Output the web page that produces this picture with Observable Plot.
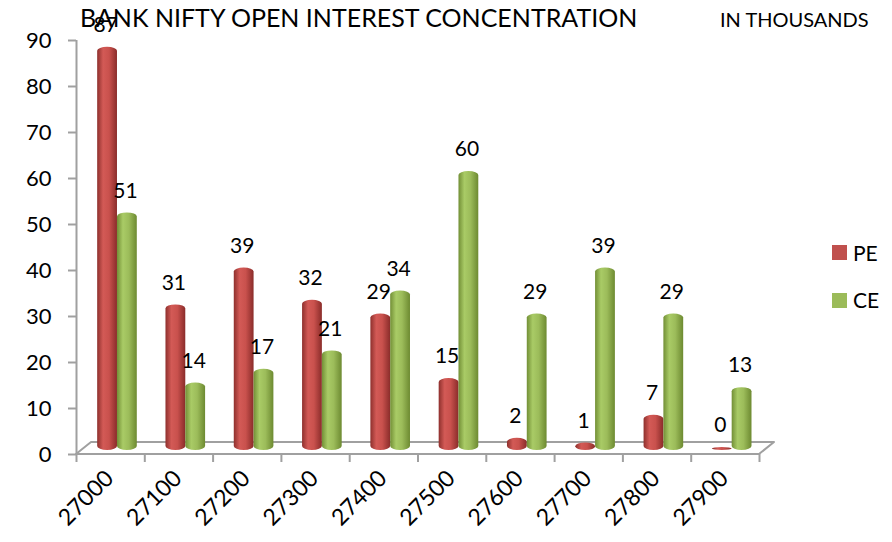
<!DOCTYPE html>
<html><head><meta charset="utf-8">
<script src="https://cdn.jsdelivr.net/npm/d3@7"></script>
<script src="https://cdn.jsdelivr.net/npm/@observablehq/plot@0.6"></script>
<style>
body{margin:0;background:#fff;font-family:Lato, "Open Sans", sans-serif;}
#wrap{position:relative;width:892px;height:542px;overflow:hidden;}
.t{position:absolute;white-space:nowrap;color:#000;line-height:1;font-family:Lato, sans-serif;}
.sw{position:absolute;width:15px;height:15px;}
</style></head><body><div id="wrap"></div>
<script>
const strikes = ["27000","27100","27200","27300","27400","27500","27600","27700","27800","27900"];
const pe = [87,31,39,32,29,15,2,1,7,0];
const ce = [51,14,17,21,34,60,29,39,29,13];
const yTicks = [0,10,20,30,40,50,60,70,80,90];
const seriesNames = ["PE","CE"];
const seriesColors = ["#C0504D","#9BBB59"];
const titleText = "BANK NIFTY OPEN INTEREST CONCENTRATION";
const unitNote = "IN THOUSANDS";

const rows = strikes.map((s,i)=>({i, strike:s, pe:pe[i], ce:ce[i]}));
const axisGray = "#a0a0a0";

const floor = (index, scales) => {
  const x = scales.x, y = scales.y;
  const x0 = x(0), x1 = x(strikes.length), y0 = y(0);
  const ddx = 15, ddy = -12;
  const p = document.createElementNS("http://www.w3.org/2000/svg","path");
  p.setAttribute("d", `M${x0},${y0}L${x0+ddx},${y0+ddy}L${x1+ddx},${y0+ddy}L${x1},${y0}Z`);
  p.setAttribute("fill","none");
  p.setAttribute("stroke",axisGray);
  p.setAttribute("stroke-width","2");
  p.setAttribute("stroke-linejoin","round");
  return p;
};

const svg = Plot.plot({
  width: 892, height: 542,
  marginLeft: 76, marginRight: 133, marginTop: 40, marginBottom: 88,
  style: {fontFamily: "Lato, sans-serif", fontSize: "21px", color: "#000", background: "#fff", overflow: "visible"},
  x: {type: "linear", domain: [0, strikes.length]},
  y: {domain: [0, 90]},
  marks: [
    floor,
    Plot.ruleX([0], {y1: 0, y2: 90, stroke: axisGray, strokeWidth: 2}),
    Plot.axisY({ticks: yTicks, tickSize: 8, tickPadding: 17, fontSize: 22, stroke: axisGray, strokeWidth: 2, label: null}),
    Plot.axisX({ticks: d3.range(strikes.length + 1), tickFormat: () => "", tickSize: 8, stroke: axisGray, strokeWidth: 2, label: null}),
    Plot.axisX({ticks: strikes.map((s,i)=>i+0.5), tickFormat: v => strikes[Math.round(v-0.5)], tickSize: 0, tickPadding: 20, tickRotate: -45, fontSize: 23, dx: -1, label: null}),
    Plot.rect(rows, {x1: d=>d.i+0.31, x2: d=>d.i+0.60, y1: 0, y2: "pe", dy: -4, insetTop: -3, rx: 10, ry: 4, fill: "url(#gPE)"}),
    Plot.rect(rows, {x1: d=>d.i+0.60, x2: d=>d.i+0.89, y1: 0, y2: "ce", dy: -4, insetTop: -3, rx: 10, ry: 4, fill: "url(#gCE)"}),
    Plot.text(rows, {x: d=>d.i+0.455, y: "pe", dy: -29, dx: -2, text: d=>String(d.pe), fontSize: 21, fill: "#000"}),
    Plot.text(rows, {x: d=>d.i+0.745, y: "ce", dy: -29, dx: -2, text: d=>String(d.ce), fontSize: 21, fill: "#000"})
  ]
});

const defs = d3.select(svg).insert("defs", ":first-child");
function grad(id, stops){
  const g = defs.append("linearGradient").attr("id", id).attr("x1","0").attr("x2","1").attr("y1","0").attr("y2","0");
  stops.forEach(([o,c]) => g.append("stop").attr("offset", o).attr("stop-color", c));
}
grad("gPE", [["0%","#8e302d"],["30%","#d35a56"],["60%","#c9514d"],["100%","#8a2c2a"]]);
grad("gCE", [["0%","#728f36"],["30%","#a9cb66"],["60%","#9cbc5a"],["100%","#6d8a31"]]);

const wrap = document.getElementById("wrap");
wrap.appendChild(svg);
svg.style.position = "absolute"; svg.style.left = "0"; svg.style.top = "0";

function addText(txt, left, top, size){
  const d = document.createElement("div");
  d.className = "t"; d.textContent = txt;
  d.style.left = left + "px"; d.style.top = top + "px"; d.style.fontSize = size + "px";
  wrap.appendChild(d);
}
addText(titleText, 80, 5, 25);
addText(unitNote, 720, 9, 20);
seriesNames.forEach((n, k) => {
  const sw = document.createElement("div");
  sw.className = "sw"; sw.style.background = seriesColors[k];
  sw.style.left = "832px"; sw.style.top = (245 + k*48) + "px";
  wrap.appendChild(sw);
  addText(n, 853, 242 + k*47, 21);
});
</script></body></html>
